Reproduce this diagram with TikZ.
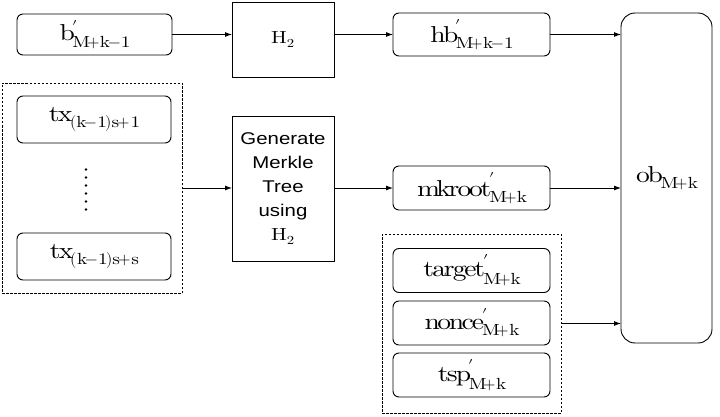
\documentclass[tikz,border=0pt]{standalone}
\usepackage{fontspec}
\usepackage{unicode-math}
\setmainfont{lmroman10-regular.otf}[FakeStretch=1.2]
\setmathfont{Latin Modern Math}
\newfontfamily\labelsans{Liberation Sans}[FakeStretch=1.2]
\usetikzlibrary{arrows.meta,positioning,shapes}

\begin{document}
\begin{tikzpicture}[x=1pt,y=-1pt,>={Latex[length=7pt,width=5pt]},
    every node/.style={inner sep=0pt,outer sep=0pt},
    valbox/.style={draw,rounded corners=6pt,line width=0.9pt,minimum width=155pt,font=\fontsize{23}{26}\selectfont},
    hashbox/.style={draw,line width=0.9pt,minimum width=102pt,font=\rmfamily\fontsize{17.5}{24}\selectfont},
    groupbox/.style={draw,line width=0.7pt,dash pattern=on 2.5pt off 1.5pt},
    flow/.style={->,line width=0.9pt}]

  \useasboundingbox (0,0) rectangle (720,417);

  % draw the header row
  \node[valbox,minimum height=41pt] (b) at (94.5,34.5) {$\mathrm{b}'_{\mathrm{M+k-1}}$};
  \node[hashbox,minimum height=75pt] (H2) at (283,39.5) {H\textsubscript{2}};
  \node[valbox,minimum width=157pt,minimum height=43pt] (hb) at (471.5,34.5) {$\mathrm{hb}'_{\mathrm{M+k-1}}$};

  % the output block
  \node[draw,line width=0.9pt,rounded corners=14pt,minimum width=91pt,minimum height=330pt,
        font=\fontsize{23}{26}\selectfont] (ob) at (666.5,178) {$\mathrm{ob}_{\mathrm{M+k}}$};

  % draw the transactions
  \node[groupbox,minimum width=180pt,minimum height=210pt] (txgroup) at (92,188) {};
  \node[valbox,minimum width=154pt,minimum height=47pt] (txfirst) at (94,119.5) {$\mathrm{tx}_{\mathrm{(k-1)s+1}}$};
  \node[valbox,minimum width=154pt,minimum height=47pt] (txlast) at (94,256.5) {$\mathrm{tx}_{\mathrm{(k-1)s+s}}$};
  \foreach \y in {0,...,5}
    \fill (86,169.5+\y*8) circle (1.3pt);

  % merkle tree and its root
  \node[hashbox,minimum height=145pt,align=center,font=\labelsans\fontsize{17}{24}\selectfont] (merkle) at (283,188.5)
    {Generate\\Merkle\\Tree\\using\\{\rmfamily\fontsize{17.5}{24}\selectfont H\textsubscript{2}}};
  \node[valbox,minimum width=157pt,minimum height=44pt] (mkroot) at (471.5,188) {$\mathrm{mkroot}'_{\mathrm{M+k}}$};

  % draw the remaining header fields
  \node[groupbox,minimum width=179pt,minimum height=179pt] (hdgroup) at (471.5,323.5) {};
  \foreach \name/\txt/\yc in {target/target/270.5,nonce/nonce/323,tsp/tsp/375}
    \node[valbox,minimum width=157pt,minimum height=44pt] (\name) at (471.5,\yc) {$\mathrm{\txt}'_{\mathrm{M+k}}$};

  % connect everything
  \draw[flow] (b.east) -- (b.east -| H2.west);
  \draw[flow] (H2.east |- hb.west) -- (hb.west);
  \draw[flow] (hb.east) -- (hb.east -| ob.west);
  \draw[flow] (txgroup.east) -- (merkle.west |- txgroup.east);
  \draw[flow] (merkle.east |- mkroot.west) -- (mkroot.west);
  \draw[flow] (mkroot.east) -- (mkroot.east -| ob.west);
  \draw[flow] (hdgroup.east) -- (hdgroup.east -| ob.west);

\end{tikzpicture}
\end{document}
